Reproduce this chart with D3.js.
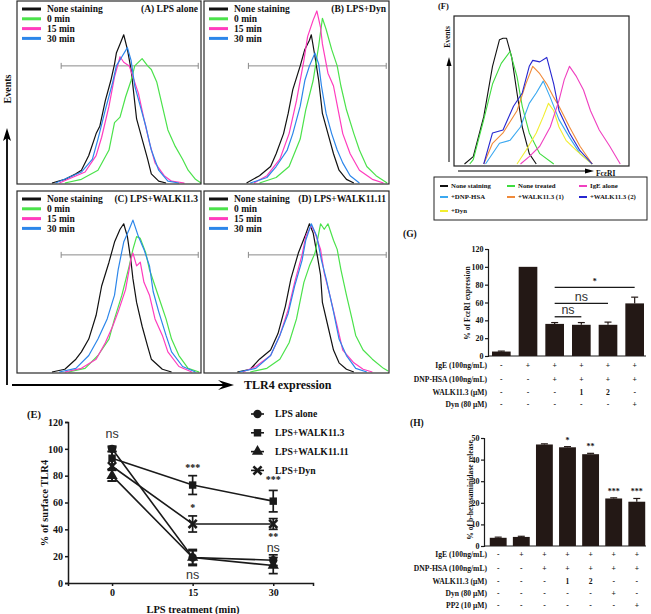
<!DOCTYPE html>
<html><head><meta charset="utf-8">
<script src="https://cdn.jsdelivr.net/npm/d3@7"></script>
<style>
body{margin:0;background:#fff}
svg{display:block}
text{font-family:"Liberation Serif","Times New Roman",serif;font-weight:bold;fill:#111}
.ns{font-family:"Liberation Sans",Arial,sans-serif;font-weight:normal;fill:#333}
</style>
</head><body><svg id="c" width="651" height="614"></svg>
<script>
// ---------- DATA ----------
// Histograms A-D: [fluorescence (0-100 of panel width), events (% of panel height)]
const histLabels = ["None staining", "0 min", "15 min", "30 min"];
const histColors = ["#111111", "#4be24b", "#ff3cbe", "#2c86ea"];
const aNone = [[19,0],[26,2],[32,5],[35,7],[39,15],[43,27],[45,31],[48,45],[51,56],[53,65],[54,71],[56,76],[58,81],[60,73],[62,62],[63,53],[65,35],[68,24],[71,13],[73,5],[77,1],[81,0]];
const a0 = [[26,0],[35,2],[44,7],[50,18],[53,33],[56,36],[59,47],[62,56],[64,64],[68,68],[71,64],[73,62],[76,55],[79,42],[82,29],[86,20],[90,13],[93,7],[97,2],[100,0]];
const a15 = [[23,0],[30,3],[37,6],[43,15],[46,25],[50,42],[53,58],[56,69],[58,66],[61,64],[63,58],[66,49],[69,35],[72,22],[75,11],[80,4],[84,1],[91,0]];
const a30 = [[21,0],[28,3],[35,6],[41,13],[44,24],[48,40],[52,55],[54,64],[57,69],[60,74],[62,67],[64,53],[67,42],[70,31],[73,18],[77,7],[82,1],[88,0]];
const bNone = [[23,0],[30,4],[36,9],[39,16],[43,27],[45.5,38],[48,51],[52,64],[54.5,73],[57,78],[58,81],[60,69],[62,56],[64,38],[67,27],[70,16],[73,7],[77,2],[81,0]];
const b0 = [[30,0],[39,3],[46,9],[52,24],[55,40],[59,56],[62,75],[64,90],[66,84],[69,73],[72,64],[74,53],[77,40],[81,27],[84,18],[88,9],[93,4],[99,0]];
const b15 = [[27,0],[34,4],[41,13],[46,27],[50,45],[54,67],[56,80],[59,89],[61,94],[63,85],[64,76],[67,60],[70,53],[72.5,40],[75,27],[79,16],[84,7],[91,2],[97,0]];
const b30 = [[25,0],[34,3],[39,9],[45,18],[48,27],[52,42],[54.5,56],[57,64],[60,71],[62,65],[63.5,53],[66,38],[69,27],[72,18],[75,11],[79,4],[84,0]];
const cNone = [[19,0],[26,1.5],[32,7],[35,11],[39,18],[43,31],[46,47],[50,60],[53,71],[56,78],[58,81],[60,74],[62,60],[63,51],[65,38],[68,25],[71,14],[73,7],[79,1.5],[84,0]];
const c0 = [[28,0],[37,2],[44,9],[50,18],[53,29],[57,42],[61,58],[63,67],[65,74],[67,73],[70,65],[72,56],[75,47],[78,38],[81,29],[84,18],[88,9],[93,2],[99,0]];
const c15 = [[26,0],[35,2],[43,7],[48,16],[52,25],[55,33],[59,45],[62,62],[63,65],[65,58],[67,60],[69,49],[72,42],[75,29],[79,20],[82,11],[88,3],[95,0]];
const c30 = [[23,0],[32,2],[39,9],[44,18],[49,29],[53,42],[55,56],[58,71],[61,78],[63,83],[66,74],[69,67],[72,58],[74,44],[77,33],[81,20],[84,11],[90,3],[97,0]];
const dNone = [[18,0],[25,1.5],[30,7],[36,12],[40,21],[44,36],[47,51],[51,65],[54.5,74],[57,81],[59,76],[61,65],[63,53],[64,38],[67,25],[70,12],[73,5],[77,1.5],[81,0]];
const d0 = [[25,0],[34,2],[41,7],[46,16],[50,29],[54,49],[57,58],[60,65],[63,81],[65,78],[67,81],[70,72],[72,67],[74,56],[77,42],[80,29],[82,20],[86,12],[91,7],[97,2],[99.5,0.5]];
const d15 = [[21,0],[28,3],[36,9],[41,20],[45.5,34],[49,49],[53,64],[55,74],[58,80],[60,76],[63,67],[65,54],[68,42],[72,25],[75,12],[81,5],[86,1.5],[91,0]];
const d30 = [[19,0],[28,2],[36,9],[41,20],[45.5,32],[49,47],[53,61],[55,72],[58,81],[61,74],[63.5,61],[66,51],[70,33],[73,18],[77,9],[82,2],[88,0]];
const histTitles = ["(A) LPS alone", "(B) LPS+Dyn", "(C) LPS+WALK11.3", "(D) LPS+WALK11.11"];
const gateRange = [24, 98.5, 64];

// Panel F histogram
const fLabels = ["None staining","None treated","IgE alone","+DNP-HSA","+WALK11.3 (1)","+WALK11.3 (2)","+Dyn"];
const fColors = ["#111111","#3fdc3f","#f040c0","#3aa8f0","#f08a3a","#2626d0","#f2ee30"];
const fNone = [[6,0],[11,5],[17,32],[22,66],[26,84],[28,85],[30,85],[33,72],[36,48],[39,25],[43,7],[47,0]];
const fUntreated = [[9,0],[11,3],[17,30],[22,54],[27,68],[32,76],[36,59],[39,39],[43,21],[49,7],[57,0]];
const fIgE = [[38,0],[43,5],[49,12],[55,25],[60,43],[63,57],[66,66],[70,59],[74,50],[78,36],[83,23],[89,12],[95,0]];
const fDNP = [[18,0],[26,14],[32,16],[38,25],[43,41],[47,48],[51,56],[55,45],[60,30],[66,18],[72,7],[79,0]];
const fW1 = [[17,0],[22,14],[28,21],[36,36],[41,54],[45,66],[49,61],[53,54],[57,45],[60,39],[66,25],[72,12],[79,0]];
const fW2 = [[17,0],[22,21],[28,23],[34,39],[39,48],[43,66],[45,70],[49,69],[53,72],[57,54],[60,36],[66,21],[72,9],[79,0]];
const fDyn = [[36,0],[41,9],[47,21],[51,32],[54,41],[57,36],[60,25],[64,16],[70,9],[76,3],[79,0]];

// Panel E
const eTimes = [0, 15, 30];
const eLabels = ["LPS alone", "LPS+WALK11.3", "LPS+WALK11.11", "LPS+Dyn"];
const eLpsAlone = [100, 19, 17];   const eLpsAloneErr = [2, 6, 4];
const eWalk113 = [93, 73, 61];     const eWalk113Err = [8, 7, 8];
const eWalk1111 = [80, 19, 13];    const eWalk1111Err = [4, 5, 6];
const eDyn = [87, 44, 44];         const eDynErr = [11, 6, 4];
const eYTicks = [0, 20, 40, 60, 80, 100, 120];
const eSig = [[0, 111, "ns"], [15, 86, "***"], [15, 56, "*"], [15, 6, "ns"], [30, 77, "***"], [30, 35, "**"], [30, 26, "ns"]];

// Panel G
const gVals = [5, 100, 36, 35, 35, 59];
const gErr = [0.5, 0, 1.5, 2.5, 3, 7];
const gTicks = [0, 20, 40, 60, 80, 100, 120];
const gRowLabels = ["IgE (100ng/mL)", "DNP-HSA (100ng/mL)", "WALK11.3 (\u03bcM)", "Dyn (80 \u03bcM)"];
const gRows = [["-","+","+","+","+","+"],["-","-","+","+","+","+"],["-","-","-","1","2","-"],["-","-","-","-","-","+"]];
const gBrackets = [[2, 3, 44, "ns"], [2, 4, 59, "ns"], [2, 5, 77, "*"]];

// Panel H
const hVals = [3.8, 4.2, 47, 45.7, 42.5, 22, 20.5];
const hErr = [0.3, 0.3, 0.3, 0.3, 0.4, 0.3, 1.5];
const hSig = ["", "", "", "*", "**", "***", "***"];
const hTicks = [0, 10, 20, 30, 40, 50];
const hRowLabels = ["IgE (100ng/mL)", "DNP-HSA (100ng/mL)", "WALK11.3 (\u03bcM)", "Dyn (80 \u03bcM)", "PP2 (10 \u03bcM)"];
const hRows = [["-","+","+","+","+","+","+"],["-","-","+","+","+","+","+"],["-","-","-","1","2","-","-"],["-","-","-","-","-","+","-"],["-","-","-","-","-","-","+"]];

// ---------- DRAW ----------
const svg = d3.select("#c");
const ink = "#1a1a1a";
const barFill = "#231815";

// ---- Histograms A-D ----
const histSets = [[aNone,a0,a15,a30],[bNone,b0,b15,b30],[cNone,c0,c15,c30],[dNone,d0,d15,d30]];
const boxes = [{x:17,y:1,w:184,h:183},{x:204,y:1,w:185,h:183},{x:17,y:191,w:184,h:182},{x:204,y:191,w:185,h:182}];
histSets.forEach((set, i) => {
  const b = boxes[i];
  const g = svg.append("g");
  const x = d3.scaleLinear().domain([0,100]).range([b.x, b.x + b.w]);
  const y = d3.scaleLinear().domain([0,100]).range([b.y + b.h - 1, b.y + b.h - 184]);
  const line = d3.line().x(d => x(d[0])).y(d => y(d[1]));
  const gy = y(gateRange[2]);
  g.append("line").attr("x1", x(gateRange[0])).attr("x2", x(gateRange[1])).attr("y1", gy).attr("y2", gy)
    .attr("stroke", "#8a8a8a").attr("stroke-width", 1);
  [gateRange[0], gateRange[1]].forEach(v => g.append("line").attr("x1", x(v)).attr("x2", x(v))
    .attr("y1", gy - 3).attr("y2", gy + 3).attr("stroke", "#8a8a8a").attr("stroke-width", 1));
  set.forEach((s, k) => {
    g.append("path").attr("d", line(s)).attr("fill", "none").attr("stroke", histColors[k])
      .attr("stroke-width", 1.2).attr("stroke-linejoin", "round");
  });
  g.append("rect").attr("x", b.x).attr("y", b.y).attr("width", b.w).attr("height", b.h)
    .attr("fill", "none").attr("stroke", "#2a2a2a").attr("stroke-width", 1.2);
  histLabels.forEach((lab, k) => {
    const ly = b.y + 8 + k * 9.8;
    g.append("line").attr("x1", b.x + 5).attr("x2", b.x + 24).attr("y1", ly).attr("y2", ly)
      .attr("stroke", histColors[k]).attr("stroke-width", 3);
    g.append("text").attr("x", b.x + 30).attr("y", ly).attr("dy", "0.35em")
      .style("font-size", "9.5px").text(lab);
  });
  g.append("text").attr("x", b.x + b.w - 3).attr("y", b.y + 8).attr("dy", "0.35em")
    .attr("text-anchor", "end").style("font-size", "9.5px").text(histTitles[i]);
});
svg.append("line").attr("x1", 7).attr("x2", 7).attr("y1", 385).attr("y2", 136).attr("stroke", "#000").attr("stroke-width", 1.8);
svg.append("path").attr("d", "M7,128 L3,141 L7,138 L11,141 Z").attr("fill", "#000");
svg.append("line").attr("x1", 12).attr("x2", 228).attr("y1", 385).attr("y2", 385).attr("stroke", "#000").attr("stroke-width", 1.8);
svg.append("path").attr("d", "M234,385 L218,380 L224,385 L218,390 Z").attr("fill", "#000");
svg.append("text").attr("transform", "translate(11,89) rotate(-90)").attr("text-anchor", "middle")
  .style("font-size", "10px").text("Events");
svg.append("text").attr("x", 244).attr("y", 385).attr("dy", "0.35em").style("font-size", "12px").text("TLR4 expression");

// ---- Panel F ----
{
  const g = svg.append("g");
  const fb = {x:454, y:16, w:175, h:150};
  const x = d3.scaleLinear().domain([0,100]).range([fb.x, fb.x + fb.w]);
  const y = d3.scaleLinear().domain([0,100]).range([fb.y + fb.h - 2, fb.y]);
  const line = d3.line().x(d => x(d[0])).y(d => y(d[1]));
  const fSets = [fNone, fUntreated, fIgE, fDNP, fW1, fW2, fDyn];
  const order = [0, 1, 3, 6, 4, 5, 2];
  order.forEach(k => g.append("path").attr("d", line(fSets[k])).attr("fill", "none")
    .attr("stroke", fColors[k]).attr("stroke-width", 1.1).attr("stroke-linejoin", "round"));
  g.append("rect").attr("x", fb.x).attr("y", fb.y).attr("width", fb.w).attr("height", fb.h)
    .attr("fill", "none").attr("stroke", "#222").attr("stroke-width", 1.2);
  g.append("text").attr("x", 438).attr("y", 6).attr("dy", "0.35em").style("font-size", "8.5px").text("(F)");
  g.append("line").attr("x1", 449).attr("x2", 449).attr("y1", 162).attr("y2", 64).attr("stroke", "#000").attr("stroke-width", 1);
  g.append("path").attr("d", "M449,57 L446.5,66 L451.5,66 Z").attr("fill", "#000");
  g.append("line").attr("x1", 458).attr("x2", 587).attr("y1", 171).attr("y2", 171).attr("stroke", "#000").attr("stroke-width", 1);
  g.append("path").attr("d", "M594,171 L585,168.5 L585,173.5 Z").attr("fill", "#000");
  g.append("text").attr("transform", "translate(450,37) rotate(-90)").attr("text-anchor", "middle")
    .style("font-size", "7.5px").text("Events");
  g.append("text").attr("x", 596).attr("y", 173).attr("dy", "0.35em").style("font-size", "7.5px").text("Fc\u03b5RI");
  g.append("rect").attr("x", 434).attr("y", 177).attr("width", 213).attr("height", 43)
    .attr("fill", "none").attr("stroke", "#222").attr("stroke-width", 1);
  const colX = [440, 507, 579];
  const rowY = [186, 197, 211];
  fLabels.forEach((lab, k) => {
    const cx = colX[k % 3], cy = rowY[Math.floor(k / 3)];
    g.append("line").attr("x1", cx).attr("x2", cx + 8).attr("y1", cy).attr("y2", cy)
      .attr("stroke", fColors[k]).attr("stroke-width", 2);
    g.append("text").attr("x", cx + 11).attr("y", cy).attr("dy", "0.35em").style("font-size", "6.8px").text(lab);
  });
}

// ---- Panel E ----
{
  const g = svg.append("g");
  const x = d3.scaleLinear().domain([-8.2, 37.4]).range([68, 313]);
  const y = d3.scaleLinear().domain([0, 120]).range([583, 422]);
  const ya = g.append("g").attr("transform", "translate(68,0)")
    .call(d3.axisLeft(y).tickValues(eYTicks).tickSize(3).tickPadding(2));
  const xa = g.append("g").attr("transform", "translate(0,583)")
    .call(d3.axisBottom(x).tickValues(eTimes).tickSize(3).tickPadding(3));
  [ya, xa].forEach(a => {
    a.selectAll("path,line").attr("stroke", ink).attr("stroke-width", 1.5);
    a.selectAll("text").style("font-size", "10px").style("font-family", "Liberation Serif").style("font-weight", "bold").attr("fill", ink);
  });
  g.append("text").attr("x", 193).attr("y", 609).attr("text-anchor", "middle").attr("dy", "0.35em")
    .style("font-size", "10.5px").text("LPS treatment (min)");
  g.append("text").attr("transform", "translate(44,503) rotate(-90)").attr("text-anchor", "middle")
    .attr("dy", "0.35em").style("font-size", "10.5px").text("% of surface TLR4");
  g.append("text").attr("x", 27).attr("y", 414).attr("dy", "0.35em").style("font-size", "10.5px").text("(E)");
  const series = [[eLpsAlone, eLpsAloneErr, d3.symbolCircle], [eWalk113, eWalk113Err, d3.symbolSquare],
                  [eWalk1111, eWalk1111Err, d3.symbolTriangle], [eDyn, eDynErr, d3.symbolTimes]];
  const line = d3.line().x((d, i) => x(eTimes[i])).y(d => y(d));
  series.forEach(([vals]) => g.append("path").attr("d", line(vals)).attr("fill", "none")
    .attr("stroke", ink).attr("stroke-width", 1.6));
  series.forEach(([vals, errs]) => vals.forEach((v, i) => {
    const cx = x(eTimes[i]);
    g.append("line").attr("x1", cx).attr("x2", cx).attr("y1", y(v - errs[i])).attr("y2", y(v + errs[i]))
      .attr("stroke", ink).attr("stroke-width", 1.7);
    [v - errs[i], v + errs[i]].forEach(e => g.append("line").attr("x1", cx - 4.5).attr("x2", cx + 4.5)
      .attr("y1", y(e)).attr("y2", y(e)).attr("stroke", ink).attr("stroke-width", 1.7));
  }));
  const sym = (type) => d3.symbol().type(type).size(type === d3.symbolTimes ? 45 : 55)();
  series.forEach(([vals, , type]) => vals.forEach((v, i) => {
    const p = g.append("path").attr("d", sym(type)).attr("transform", `translate(${x(eTimes[i])},${y(v)})`);
    if (type === d3.symbolTimes) p.attr("fill", "none").attr("stroke", ink).attr("stroke-width", 2.6);
    else p.attr("fill", ink);
  }));
  eSig.forEach(([t, v, lab]) => {
    const tx = g.append("text").attr("x", x(t)).attr("y", y(v)).attr("dy", "0.35em").attr("text-anchor", "middle").text(lab);
    if (lab === "ns") tx.attr("class", "ns").style("font-size", "12.5px");
    else tx.style("font-size", "10px");
  });
  eLabels.forEach((lab, k) => {
    const ly = 414 + k * 18.8;
    g.append("line").attr("x1", 251).attr("x2", 264).attr("y1", ly).attr("y2", ly).attr("stroke", ink).attr("stroke-width", 1.6);
    const type = series[k][2];
    const p = g.append("path").attr("d", sym(type)).attr("transform", `translate(257.5,${ly})`);
    if (type === d3.symbolTimes) p.attr("fill", "none").attr("stroke", ink).attr("stroke-width", 2.6);
    else p.attr("fill", ink);
    g.append("text").attr("x", 275).attr("y", ly).attr("dy", "0.35em").style("font-size", "9.7px").text(lab);
  });
}

// ---- Bar panels G & H ----
function barPanel(o) {
  const g = svg.append("g");
  const y = d3.scaleLinear().domain(o.domain).range([o.y0, o.y1]);
  const x = d3.scaleBand().domain(o.vals.map((d, i) => i)).range(o.xr).paddingInner(o.pi).paddingOuter(o.po);
  const ya = g.append("g").attr("transform", `translate(${o.x0},0)`)
    .call(d3.axisLeft(y).tickValues(o.ticks).tickSize(3).tickPadding(1.5));
  ya.selectAll("path,line").attr("stroke", ink).attr("stroke-width", 1.2);
  ya.selectAll("text").style("font-size", "8px").style("font-family", "Liberation Serif").style("font-weight", "bold").attr("fill", ink);
  g.append("line").attr("x1", o.x0).attr("x2", o.xEnd).attr("y1", o.y0).attr("y2", o.y0).attr("stroke", ink).attr("stroke-width", 1.2);
  o.vals.forEach((v, i) => {
    const bx = x(i), bw = x.bandwidth(), cx = bx + bw / 2;
    if (o.err[i] > 0) {
      g.append("line").attr("x1", cx).attr("x2", cx).attr("y1", y(v)).attr("y2", y(v + o.err[i])).attr("stroke", barFill).attr("stroke-width", 1.2);
      g.append("line").attr("x1", cx - 3.5).attr("x2", cx + 3.5).attr("y1", y(v + o.err[i])).attr("y2", y(v + o.err[i])).attr("stroke", barFill).attr("stroke-width", 1.2);
    }
    g.append("rect").attr("x", bx).attr("y", y(v)).attr("width", bw).attr("height", o.y0 - y(v)).attr("fill", barFill);
  });
  o.rowLabels.forEach((lab, r) => {
    g.append("text").attr("x", o.labelX).attr("y", o.rowY[r]).attr("dy", "0.35em").attr("text-anchor", "end")
      .style("font-size", "7.6px").text(lab);
    o.rows[r].forEach((s, i) => g.append("text").attr("x", x(i) + x.bandwidth() / 2).attr("y", o.rowY[r])
      .attr("dy", "0.35em").attr("text-anchor", "middle").style("font-size", "7.6px").text(s));
  });
  g.append("text").attr("transform", `translate(${o.ylabX},${o.ylabY}) rotate(-90)`).attr("text-anchor", "middle")
    .attr("dy", "0.35em").style("font-size", "7.6px").text(o.ylab);
  g.append("text").attr("x", o.tagX).attr("y", o.tagY).attr("dy", "0.35em").style("font-size", "9.5px").text(o.tag);
  return {g, x, y};
}
{
  const {g, x, y} = barPanel({vals: gVals, err: gErr, domain: [0, 120], y0: 356, y1: 249, xr: [488, 648], pi: 0.3, po: 0.15,
    x0: 488, xEnd: 646, ticks: gTicks, rowLabels: gRowLabels, rows: gRows, rowY: [365, 379, 392, 404], labelX: 487,
    ylab: "% of Fc\u03b5RI expression", ylabX: 467, ylabY: 303, tag: "(G)", tagX: 403, tagY: 234});
  const c = i => x(i) + x.bandwidth() / 2;
  gBrackets.forEach(([a, b, lv, lab]) => {
    g.append("line").attr("x1", c(a)).attr("x2", c(b)).attr("y1", y(lv)).attr("y2", y(lv)).attr("stroke", ink).attr("stroke-width", 1.3);
    const t = g.append("text").attr("x", (c(a) + c(b)) / 2).attr("text-anchor", "middle").text(lab);
    if (lab === "ns") t.attr("class", "ns").attr("y", y(lv) - 2.5).style("font-size", "12.5px");
    else t.attr("y", y(lv) - 3).style("font-size", "8px");
  });
}
{
  const {g, x, y} = barPanel({vals: hVals, err: hErr, domain: [0, 50], y0: 546, y1: 438, xr: [484, 651], pi: 0.27, po: 0.25,
    x0: 484, xEnd: 646, ticks: hTicks, rowLabels: hRowLabels, rows: hRows, rowY: [554, 568, 581, 593, 605], labelX: 487,
    ylab: "% of b-hexosaminidase release", ylabX: 470, ylabY: 490, tag: "(H)", tagX: 410, tagY: 423});
  hSig.forEach((s, i) => {
    if (!s) return;
    g.append("text").attr("x", x(i) + x.bandwidth() / 2).attr("y", y(hVals[i] + hErr[i]) - 4)
      .attr("text-anchor", "middle").style("font-size", "8px").text(s);
  });
}
</script></body></html>
